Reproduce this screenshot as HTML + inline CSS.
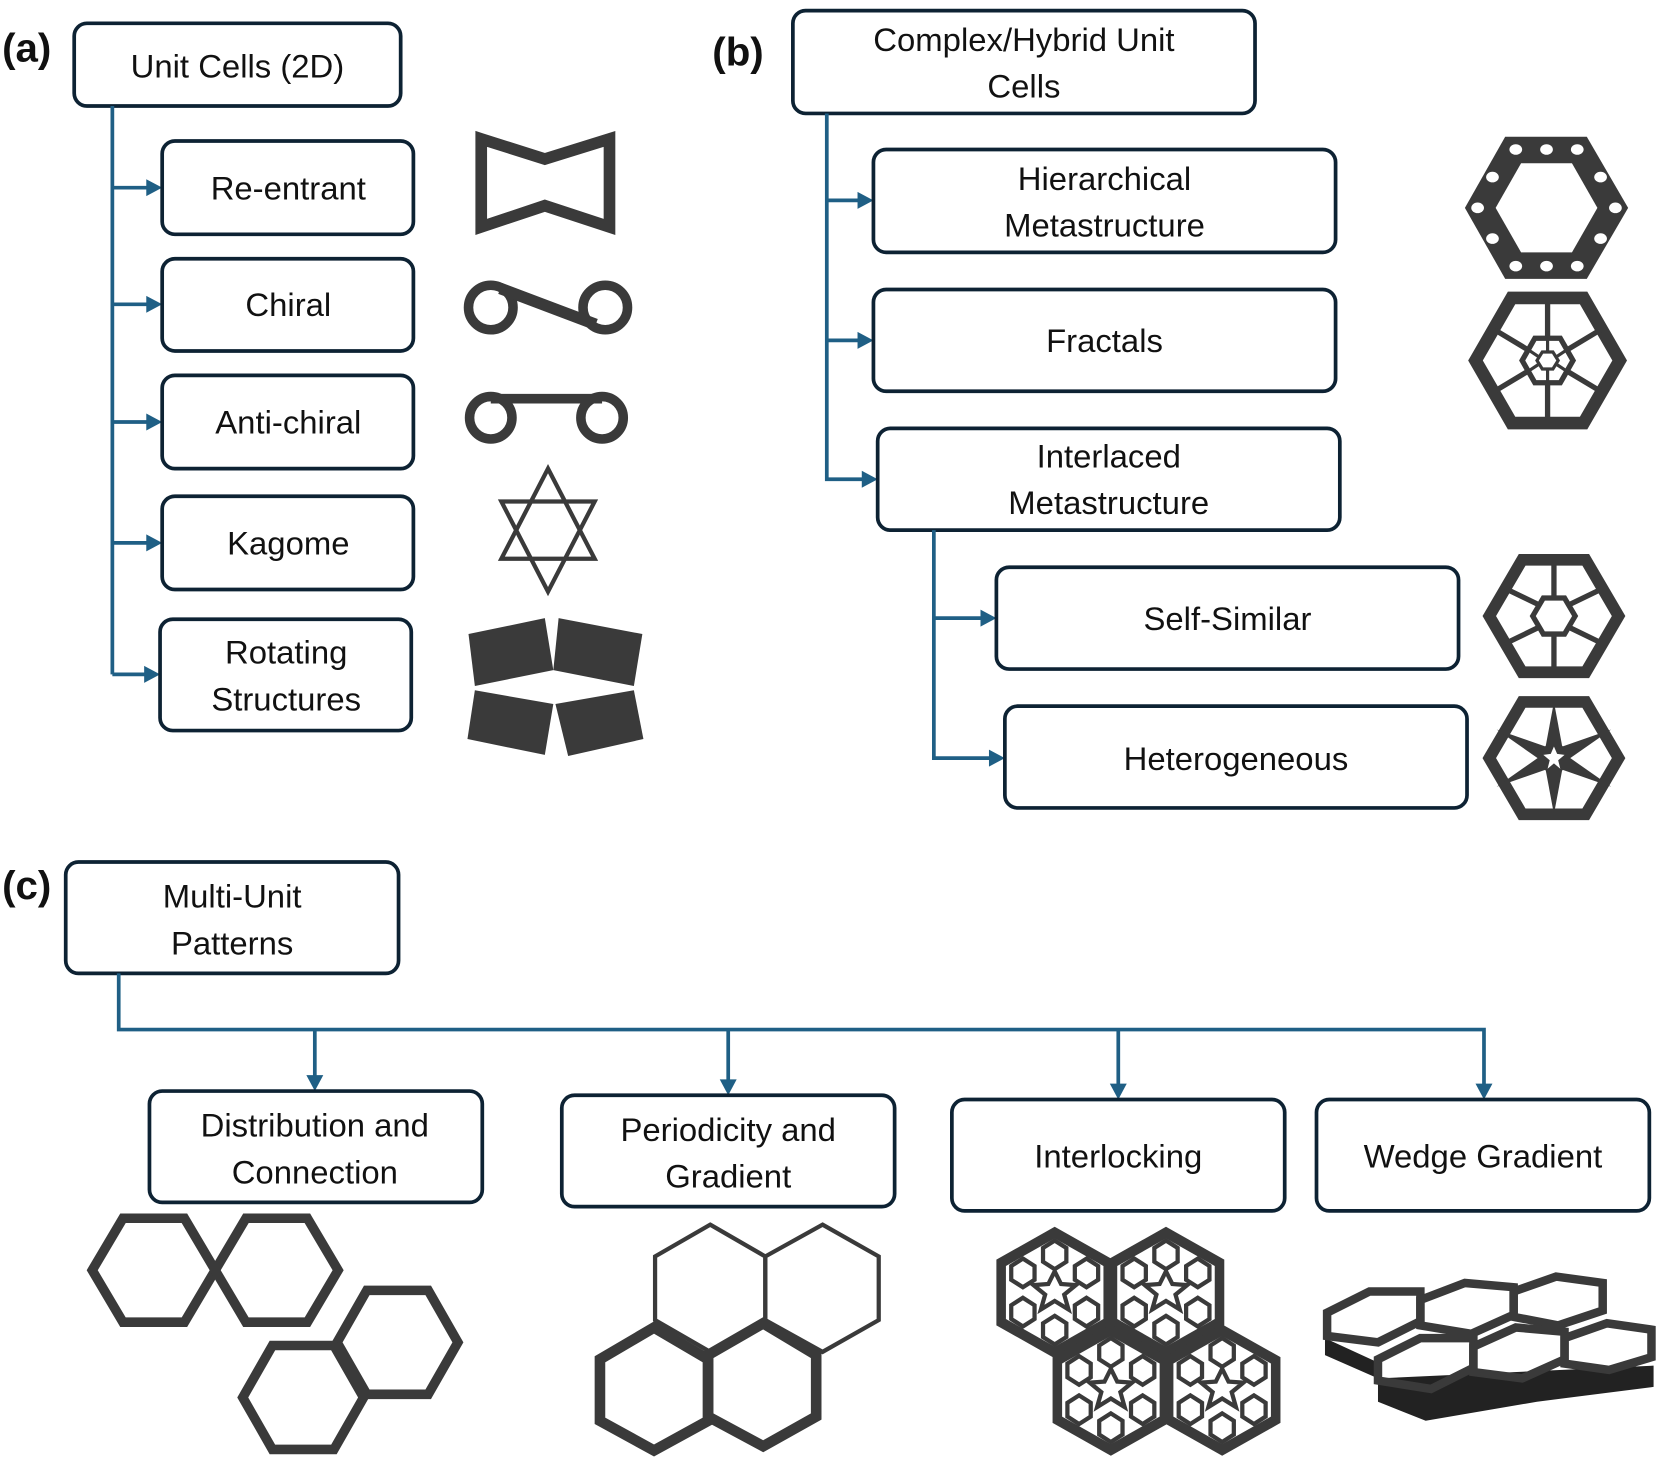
<!DOCTYPE html>
<html><head><meta charset="utf-8"><style>
html,body{margin:0;padding:0;background:#fff;}
svg{display:block}
text{font-family:"Liberation Sans",sans-serif;font-size:31px;fill:#111;text-anchor:middle;}
.lbl{font-weight:bold;font-size:38px;text-anchor:start}
.bx{fill:#fff;stroke:#0d2233;stroke-width:3.5}
.cn{fill:none;stroke:#1f5f85;stroke-width:3.5}
.ah{fill:#1f5f85}
.ic{fill:none;stroke:#3a3a3a}
</style></head><body>
<svg width="1661" height="1477" viewBox="0 0 1567 1393" preserveAspectRatio="none" xmlns="http://www.w3.org/2000/svg">
<!-- (a) -->
<text class="lbl" x="2" y="58">(a)</text>
<rect class="bx" x="70" y="22" width="308" height="78" rx="12"/>
<text x="224" y="73">Unit Cells (2D)</text>
<path class="cn" d="M106 100 V636 M106 177 H143 M106 287 H143 M106 398 H143 M106 512 H143 M106 636 H141"/>
<polygon class="ah" points="153,177 138,169 138,185"/>
<polygon class="ah" points="153,287 138,279 138,295"/>
<polygon class="ah" points="153,398 138,390 138,406"/>
<polygon class="ah" points="153,512 138,504 138,520"/>
<polygon class="ah" points="151,636 136,628 136,644"/>
<rect class="bx" x="153" y="133" width="237" height="88" rx="12"/><text x="272" y="188">Re-entrant</text>
<rect class="bx" x="153" y="244" width="237" height="87" rx="12"/><text x="272" y="298">Chiral</text>
<rect class="bx" x="153" y="354" width="237" height="88" rx="12"/><text x="272" y="409">Anti-chiral</text>
<rect class="bx" x="153" y="468" width="237" height="88" rx="12"/><text x="272" y="523">Kagome</text>
<rect class="bx" x="151" y="584" width="237" height="105" rx="12"/><text x="270" y="626">Rotating</text><text x="270" y="670">Structures</text>
<!-- icons a -->
<polygon class="ic" stroke-width="11" points="454,131 514,150 575,131 575,214 514,194 454,214"/>
<circle class="ic" stroke-width="9" cx="463" cy="290" r="21"/>
<circle class="ic" stroke-width="9" cx="571" cy="290" r="21"/>
<path class="ic" stroke-width="11" d="M472 272 L562 306"/>
<circle class="ic" stroke-width="9" cx="463" cy="394" r="20"/>
<circle class="ic" stroke-width="9" cx="568" cy="394" r="20"/>
<path class="ic" stroke-width="9" d="M463 376 H568"/>
<polygon class="ic" stroke-width="4" points="517,442 561,527 473,527"/>
<polygon class="ic" stroke-width="4" points="517,558 473,473 561,473"/>
<polygon fill="#3a3a3a" points="442,598 514,583 522,632 448,647"/>
<polygon fill="#3a3a3a" points="527,583 606,598 598,647 522,632"/>
<polygon fill="#3a3a3a" points="448,651 522,664 514,712 441,697"/>
<polygon fill="#3a3a3a" points="524,664 598,651 607,697 536,713"/>
<!-- (b) -->
<text class="lbl" x="672" y="62">(b)</text>
<rect class="bx" x="748" y="10" width="436" height="97" rx="12"/>
<text x="966" y="48">Complex/Hybrid Unit</text><text x="966" y="92">Cells</text>
<path class="cn" d="M780 107 V452 H816 M780 189 H814 M780 321 H814"/>
<polygon class="ah" points="824,189 809,181 809,197"/>
<polygon class="ah" points="824,321 809,313 809,329"/>
<polygon class="ah" points="828,452 813,444 813,460"/>
<rect class="bx" x="824" y="141" width="436" height="97" rx="12"/>
<text x="1042" y="179">Hierarchical</text><text x="1042" y="223">Metastructure</text>
<rect class="bx" x="824" y="273" width="436" height="96" rx="12"/><text x="1042" y="332">Fractals</text>
<rect class="bx" x="828" y="404" width="436" height="96" rx="12"/>
<text x="1046" y="441">Interlaced</text><text x="1046" y="485">Metastructure</text>
<path class="cn" d="M881 500 V715 H936 M881 583 H928"/>
<polygon class="ah" points="940,583 925,575 925,591"/>
<polygon class="ah" points="948,715 933,707 933,723"/>
<rect class="bx" x="940" y="535" width="436" height="96" rx="12"/><text x="1158" y="594">Self-Similar</text>
<rect class="bx" x="948" y="666" width="436" height="96" rx="12"/><text x="1166" y="726">Heterogeneous</text>
<!-- hierarchical -->
<polygon fill="#3a3a3a" points="1382,196 1420,129 1497,129 1536,196 1497,263 1420,263"/>
<polygon fill="#fff" points="1411,196 1435,154 1483,154 1507,196 1483,238 1435,238"/>
<g fill="#fff">
<ellipse cx="1430" cy="141" rx="6" ry="5"/><ellipse cx="1459" cy="141" rx="6" ry="5"/><ellipse cx="1488" cy="141" rx="6" ry="5"/>
<ellipse cx="1430" cy="251" rx="6" ry="5"/><ellipse cx="1459" cy="251" rx="6" ry="5"/><ellipse cx="1488" cy="251" rx="6" ry="5"/>
<ellipse cx="1408" cy="167" rx="6" ry="5"/><ellipse cx="1394" cy="196" rx="6" ry="5"/><ellipse cx="1408" cy="225" rx="6" ry="5"/>
<ellipse cx="1510" cy="167" rx="6" ry="5"/><ellipse cx="1524" cy="196" rx="6" ry="5"/><ellipse cx="1510" cy="225" rx="6" ry="5"/>
</g>
<!-- fractal -->
<g class="ic">
<polygon stroke-width="12" points="1392,340 1426,281 1494,281 1528,340 1494,399 1426,399"/>
<path stroke-width="5" d="M1460 282 V318 M1460 362 V398 M1410 311 L1440 329 M1510 311 L1480 329 M1410 369 L1440 351 M1510 369 L1480 351"/>
<polygon stroke-width="5" points="1436,340 1448,319 1472,319 1484,340 1472,361 1448,361"/>
<polygon stroke-width="3" points="1450,340 1455,332 1465,332 1470,340 1465,348 1455,348"/>
<path stroke-width="3" d="M1460 320 V332 M1460 348 V360 M1442 330 L1451 336 M1478 330 L1469 336 M1442 350 L1451 344 M1478 350 L1469 344"/>
</g>
<!-- self-similar -->
<g class="ic">
<polygon stroke-width="11" points="1405,581 1436,528 1496,528 1527,581 1496,634 1436,634"/>
<polygon stroke-width="5" points="1446,581 1456,564 1476,564 1486,581 1476,598 1456,598"/>
<path stroke-width="5" d="M1466 530 V564 M1466 598 V632 M1420 555 L1451 570 M1512 555 L1481 570 M1420 607 L1451 592 M1512 607 L1481 592"/>
</g>
<!-- heterogeneous -->
<g class="ic">
<polygon stroke-width="11" points="1405,715 1436,662 1496,662 1527,715 1496,768 1436,768"/>
</g>
<g fill="#3a3a3a">
<polygon points="1466,662 1474,705 1458,705"/><polygon points="1466,768 1474,725 1458,725"/>
<polygon points="1412,688 1458,704 1452,716"/><polygon points="1520,688 1474,704 1480,716"/>
<polygon points="1412,742 1458,726 1452,714"/><polygon points="1520,742 1474,726 1480,714"/>
<circle cx="1466" cy="715" r="14"/>
</g>
<polygon fill="#fff" points="1466,704 1469,711 1476,712 1470,717 1472,725 1466,720 1460,725 1462,717 1456,712 1463,711"/>
<!-- (c) -->
<text class="lbl" x="2" y="848">(c)</text>
<rect class="bx" x="62" y="813" width="314" height="105" rx="12"/>
<text x="219" y="856">Multi-Unit</text><text x="219" y="900">Patterns</text>
<path class="cn" d="M112 918 V971 H1400 V1024 M297 971 V1016 M687 971 V1020 M1055 971 V1024"/>
<polygon class="ah" points="297,1029 289,1014 305,1014"/>
<polygon class="ah" points="687,1033 679,1018 695,1018"/>
<polygon class="ah" points="1055,1037 1047,1022 1063,1022"/>
<polygon class="ah" points="1400,1037 1392,1022 1408,1022"/>
<rect class="bx" x="141" y="1029" width="314" height="105" rx="12"/>
<text x="297" y="1072">Distribution and</text><text x="297" y="1116">Connection</text>
<rect class="bx" x="530" y="1033" width="314" height="105" rx="12"/>
<text x="687" y="1076">Periodicity and</text><text x="687" y="1120">Gradient</text>
<rect class="bx" x="898" y="1037" width="314" height="105" rx="12"/><text x="1055" y="1101">Interlocking</text>
<rect class="bx" x="1242" y="1037" width="314" height="105" rx="12"/><text x="1399" y="1101">Wedge Gradient</text>
<!-- distribution -->
<g class="ic" stroke-width="9">
<polygon points="87,1198 116,1149 174,1149 203,1198 174,1247 116,1247"/>
<polygon points="203,1198 232,1149 290,1149 319,1198 290,1247 232,1247"/>
<polygon points="318,1266 346,1217 404,1217 432,1266 404,1315 346,1315"/>
<polygon points="229,1318 257,1269 315,1269 343,1318 315,1367 257,1367"/>
</g>
<!-- periodicity -->
<g class="ic" stroke-width="4">
<polygon points="670,1155 722,1185 722,1245 670,1275 618,1245 618,1185"/>
<polygon points="776,1155 829,1185 829,1245 776,1275 722,1245 722,1185"/>
</g>
<g class="ic" stroke-width="10">
<polygon points="617,1252 668,1282 668,1340 617,1368 566,1340 566,1282"/>
<polygon points="720,1248 770,1278 770,1336 720,1364 668,1336 668,1278"/>
</g>
<!-- interlocking -->
<g id="ih">
<polygon fill="#3a3a3a" points="995,1157 1050,1188 1050,1250 995,1281 940,1250 940,1188"/>
<polygon fill="#fff" points="995,1168 1041,1194 1041,1244 995,1270 949,1244 949,1194"/>
<g fill="none" stroke="#3a3a3a" stroke-width="4">
<polygon points="995,1170 1006,1177 1006,1190 995,1197 984,1190 984,1177"/>
<polygon points="995,1241 1006,1248 1006,1261 995,1268 984,1261 984,1248"/>
<polygon points="965,1187 976,1194 976,1207 965,1214 954,1207 954,1194"/>
<polygon points="1025,1187 1036,1194 1036,1207 1025,1214 1014,1207 1014,1194"/>
<polygon points="965,1224 976,1231 976,1244 965,1251 954,1244 954,1231"/>
<polygon points="1025,1224 1036,1231 1036,1244 1025,1251 1014,1244 1014,1231"/>
<polygon stroke-width="4" points="995,1199 1001,1211 1015,1212 1004,1221 1008,1235 995,1227 982,1235 986,1221 975,1212 989,1211"/>
</g>
</g>
<use href="#ih" transform="translate(105,0)"/>
<use href="#ih" transform="translate(53,92)"/>
<use href="#ih" transform="translate(158,92)"/>
<!-- wedge -->
<polygon fill="#222" points="1250,1262 1300,1285 1300,1322 1345,1340 1450,1322 1560,1308 1560,1288 1300,1300 1250,1278"/>
<g class="ic" stroke="#2e2e2e" stroke-width="8">
<polygon points="1252,1238 1292,1218 1340,1218 1340,1246 1300,1266 1252,1260"/>
<polygon points="1340,1226 1382,1210 1428,1214 1428,1240 1388,1258 1340,1250"/>
<polygon points="1428,1218 1468,1204 1512,1210 1512,1236 1470,1250 1428,1242"/>
<polygon points="1300,1282 1340,1262 1390,1262 1390,1290 1350,1310 1300,1302"/>
<polygon points="1390,1270 1430,1252 1476,1256 1476,1282 1436,1300 1390,1294"/>
<polygon points="1476,1262 1516,1248 1558,1254 1558,1280 1518,1292 1476,1286"/>
</g>
</svg>
</body></html>
